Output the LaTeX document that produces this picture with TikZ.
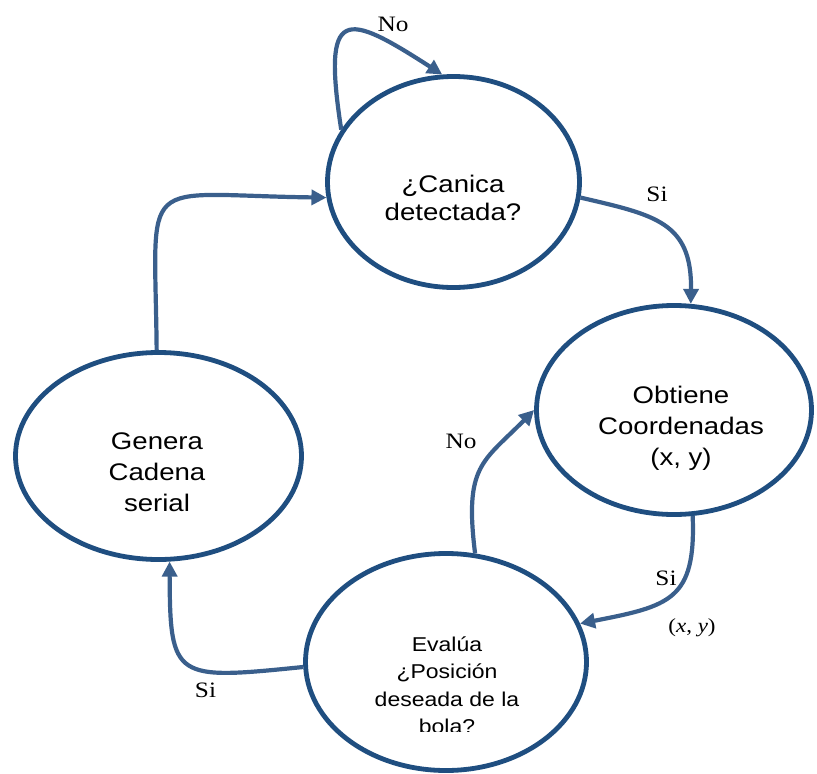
\documentclass[tikz,border=0pt]{standalone}
\usepackage{fontspec}
\setmainfont{Liberation Serif}[FakeStretch=1.15]
\newfontfamily\arial{Liberation Sans}[FakeStretch=1.15]
\usepackage{xcolor}
\usepackage{tikz}
\usetikzlibrary{arrows.meta}
\usetikzlibrary{shapes.geometric}

\definecolor{bordeazul}{RGB}{31,78,128}
\definecolor{flechaazul}{RGB}{58,95,140}

\tikzset{
  estado/.style={ellipse, draw=bordeazul, line width=4.8pt, inner sep=0pt},
  texto/.style={align=center, inner sep=0pt, font=\arial\fontsize{24}{31}\selectfont},
  flecha/.style={draw=flechaazul, line width=4.2pt, -{Triangle[length=15pt,width=15pt]}},
  etiqueta/.style={inner sep=0pt, font=\fontsize{22}{26}\selectfont}
}

\begin{document}
\begin{tikzpicture}[x=1pt,y=1pt]
\useasboundingbox (0,0) rectangle (817,-774);

\node[estado, minimum width=252pt, minimum height=211pt] at (453.5,-182) (canica) {};
\node[estado, minimum width=275pt, minimum height=209pt] at (674,-410) (obtiene) {};
\node[estado, minimum width=286pt, minimum height=207pt] at (158.5,-456) (genera) {};
\node[estado, minimum width=281pt, minimum height=217pt] at (446,-662) (evalua) {};

\node[texto, font=\arial\fontsize{24}{28}\selectfont] at (453,-197.5) (canicaTxt) {¿Canica\\detectada?};
\node[texto] at (681,-428) (obtieneTxt) {Obtiene\\Coordenadas\\(x, y)};
\node[texto] at (157,-472) (generaTxt) {Genera\\Cadena\\serial};
\begin{scope}
\clip (300,-540) rectangle (600,-731);
\node[texto, font=\arial\fontsize{20}{27.5}\selectfont] at (447,-685) (evaluaTxt) {Evalúa\\¿Posición\\deseada de la\\bola?};
\end{scope}

\draw[flecha] (canica.155) .. controls (322,-5) and (345,-12) .. (canica.96);
\draw[flecha] (canica.-7) .. controls (655,-215) and (692,-222) .. (obtiene.81);
\draw[flecha] (obtiene.-80) .. controls (696,-600) and (670,-606) .. (evalua.16);
\draw[flecha] (evalua.75) .. controls (464,-465) and (483,-462) .. (obtiene.180);
\draw[flecha] (evalua.182) .. controls (175,-680) and (170,-680) .. (genera.-84);
\draw[flecha] (genera.91) .. controls (155,-170) and (135,-195) .. (canica.187);

\node[etiqueta] at (393,-24) (noLazo) {No};
\node[etiqueta] at (657,-194) (siCanica) {Si};
\node[etiqueta] at (666,-578) (siObtiene) {Si};
\node[etiqueta, font=\fontsize{20}{24}\selectfont] at (692,-628) (xy) {(\textit{x}, \textit{y})};
\node[etiqueta] at (461,-441) (noEvalua) {No};
\node[etiqueta] at (205.5,-690.5) (siEvalua) {Si};
\end{tikzpicture}
\end{document}
